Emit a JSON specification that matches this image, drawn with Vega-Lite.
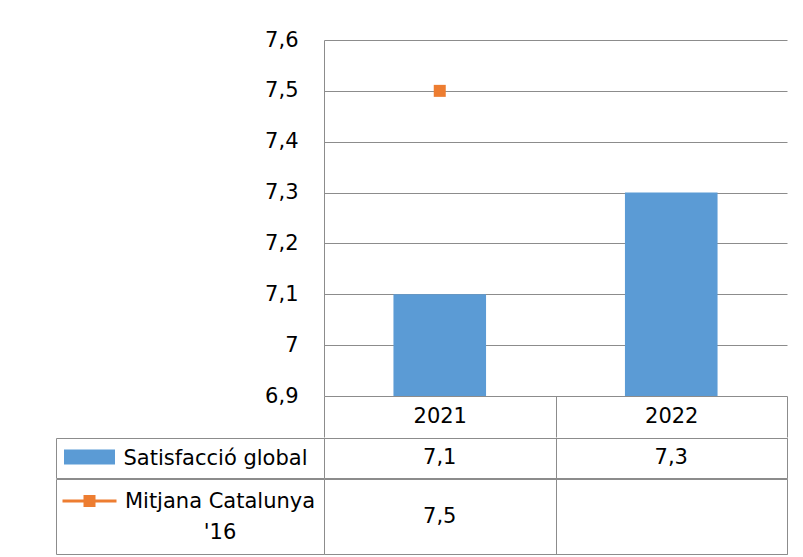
{
  "$schema": "https://vega.github.io/schema/vega-lite/v6.json",
  "padding": {"left": 55, "top": 29, "right": 0, "bottom": 0},
  "background": "white",
  "data": {"values": [
    {"year": "2021", "series": "Satisfacció global", "value": 7.1},
    {"year": "2022", "series": "Satisfacció global", "value": 7.3},
    {"year": "2021", "series": "Mitjana Catalunya '16", "value": 7.5}
  ]},
  "config": {
    "locale": {"number": {"decimal": ",", "thousands": ".", "grouping": [3], "currency": ["", " €"]}},
    "font": "DejaVu Sans",
    "view": {"stroke": "#8C8C8C"},
    "axis": {"labelFont": "DejaVu Sans", "labelFontSize": 21, "labelColor": "#000000", "title": null, "labelLimit": 0}
  },
  "resolve": {"scale": {"y": "independent"}},
  "spacing": -13,
  "vconcat": [
    {
      "width": 463,
      "height": 356,
      "view": {"stroke": null},
      "encoding": {
        "x": {"field": "year", "type": "nominal",
          "scale": {"type": "band", "domain": ["2021", "2022"], "paddingInner": 0, "paddingOuter": 0},
          "axis": {"orient": "bottom", "labelAngle": 0, "domain": false, "ticks": true, "tickBand": "extent", "tickSize": 41, "tickColor": "#8C8C8C", "tickWidth": 1, "labelPadding": -20.5, "labelBaseline": "middle", "grid": false}},
        "y": {"field": "value", "type": "quantitative",
          "scale": {"domain": [6.9, 7.6], "zero": false, "nice": false, "clamp": true},
          "axis": {"values": [6.9, 7, 7.1, 7.2, 7.3, 7.4, 7.5, 7.6], "format": "~g", "grid": true, "gridColor": "#8C8C8C", "domain": true, "domainColor": "#8C8C8C", "ticks": false, "labelPadding": 26, "minExtent": 268, "labelBaseline": "middle"}},
        "color": {"field": "series", "type": "nominal",
          "scale": {"domain": ["Satisfacció global", "Mitjana Catalunya '16"], "range": ["#5B9BD5", "#ED7D31"]},
          "legend": {
            "orient": "none", "legendX": -236, "legendY": 415.5, "title": null,
            "labelExpr": "''", "labelFontSize": 1, "symbolSize": 900, "rowPadding": 26, "padding": 0,
            "symbolStrokeWidth": 0,
            "encode": {"symbols": {"update": {
              "shape": {"signal": "datum.index === 0 ? 'M-1.7,-0.5H1.7V0.5H-1.7Z' : 'M-1.8,0H1.8M-0.3,-0.3H0.3V0.3H-0.3Z'"},
              "strokeWidth": {"signal": "datum.index === 0 ? 0 : 3"},
              "stroke": {"signal": "datum.index === 0 ? '#5B9BD5' : '#ED7D31'"},
              "fill": {"signal": "datum.index === 0 ? '#5B9BD5' : '#ED7D31'"},
              "opacity": {"value": 1}
            }}}
          }}
      },
      "layer": [
        {"transform": [{"filter": "datum.series === 'Satisfacció global'"}],
         "mark": {"type": "bar", "width": {"band": 0.4}}},
        {"transform": [{"filter": "datum.series !== 'Satisfacció global'"}],
         "mark": {"type": "point", "shape": "square", "filled": true, "size": 144, "opacity": 1}}
      ]
    },
    {
      "width": 463,
      "height": 40,
      "transform": [{"filter": "datum.series === 'Satisfacció global'"}],
      "mark": {"type": "text", "font": "DejaVu Sans", "fontSize": 21, "color": "#000000"},
      "encoding": {
        "x": {"field": "year", "type": "nominal",
          "scale": {"type": "band", "domain": ["2021", "2022"], "paddingInner": 0, "paddingOuter": 0},
          "axis": {"labels": false, "ticks": false, "domain": false, "grid": true, "tickBand": "extent", "gridColor": "#8C8C8C"}},
        "y": {"field": "series", "type": "nominal",
          "scale": {"type": "band", "paddingInner": 0, "paddingOuter": 0},
          "axis": {"offset": 268, "tickSize": -268, "tickBand": "extent", "tickColor": "#8C8C8C", "domainColor": "#8C8C8C", "labelAlign": "left", "labelPadding": 201, "labelBaseline": "middle"}},
        "text": {"field": "value", "type": "quantitative", "format": ".1f"}
      }
    },
    {
      "width": 463,
      "height": 75,
      "transform": [{"filter": "datum.series !== 'Satisfacció global'"}],
      "mark": {"type": "text", "font": "DejaVu Sans", "fontSize": 21, "color": "#000000"},
      "encoding": {
        "x": {"field": "year", "type": "nominal",
          "scale": {"type": "band", "domain": ["2021", "2022"], "paddingInner": 0, "paddingOuter": 0},
          "axis": {"labels": false, "ticks": false, "domain": false, "grid": true, "tickBand": "extent", "gridColor": "#8C8C8C"}},
        "y": {"field": "series", "type": "nominal",
          "scale": {"type": "band", "paddingInner": 0, "paddingOuter": 0},
          "axis": {"offset": 268, "tickSize": -268, "tickBand": "extent", "tickColor": "#8C8C8C", "domainColor": "#8C8C8C", "labelAlign": "center", "labelPadding": 104.5, "labelBaseline": "middle", "labelLineHeight": 31, "labelOffset": -15.5,
            "labelExpr": "[slice(datum.label, 0, 17), slice(datum.label, 18)]"}},
        "text": {"field": "value", "type": "quantitative", "format": ".1f"}
      }
    }
  ]
}
